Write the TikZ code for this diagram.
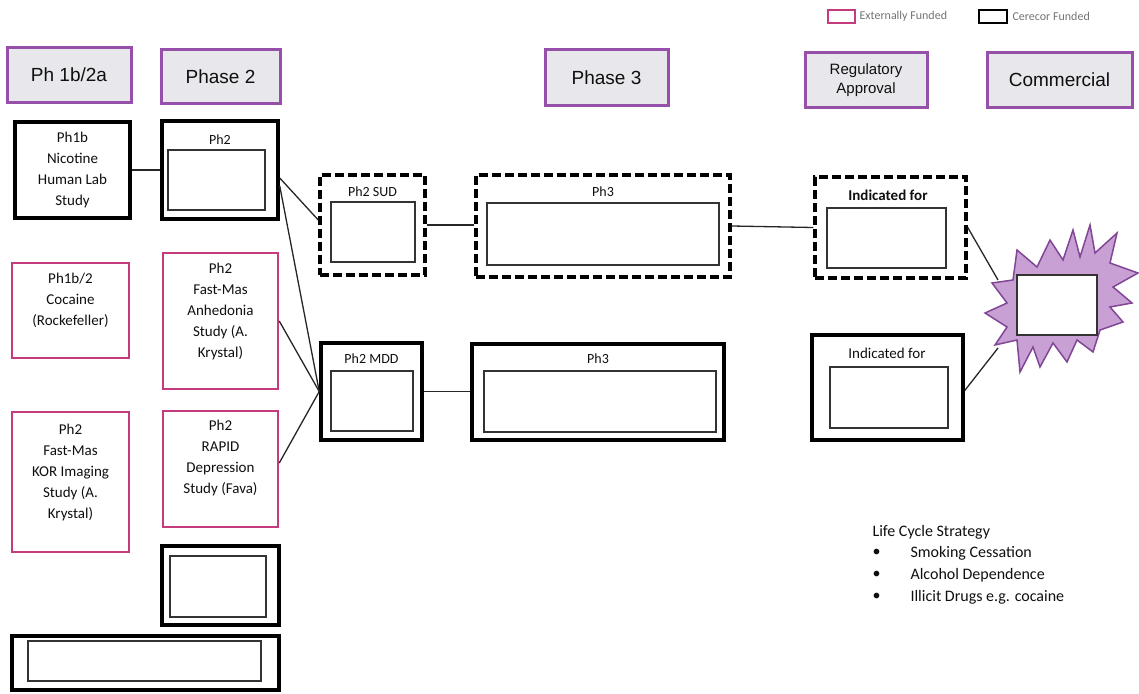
\documentclass[tikz,border=0pt]{standalone}
\usepackage{fontspec}
\setmainfont{Carlito}
\newfontfamily\arialf{Liberation Sans}
\usetikzlibrary{calc}
\definecolor{pinkb}{RGB}{196,60,125}
\definecolor{purpb}{RGB}{150,80,170}
\definecolor{hdrfill}{RGB}{232,232,236}
\definecolor{starfill}{RGB}{200,160,212}
\definecolor{starline}{RGB}{130,70,150}
\definecolor{ink}{RGB}{15,15,15}
\begin{document}
\begin{tikzpicture}[x=1pt,y=-1pt,
 sz/.style 2 args={minimum width=#1pt,minimum height=#2pt},
 hdr/.style={draw=purpb,line width=3pt,fill=hdrfill,inner sep=0pt,align=center,text=ink,font=\arialf\fontsize{19}{22}\selectfont},
 ext/.style={draw=pinkb,line width=2.5pt,inner sep=0pt},
 own/.style={draw=black,line width=3.5pt,inner sep=0pt},
 ownd/.style={draw=black,line width=3.5pt,dash pattern=on 9pt off 4pt,inner sep=0pt},
 inbox/.style={draw=black!80,line width=1.2pt,inner sep=0pt,fill=white},
 txt/.style={font=\fontsize{15}{21}\selectfont,align=center,text=ink},
 lbl/.style={font=\fontsize{14}{16}\selectfont,text=ink},
 link/.style={draw=black!85,line width=1.3pt},
 legtxt/.style={font=\fontsize{12}{14}\selectfont,text=black!55,anchor=west},
 lc/.style={font=\fontsize{16}{18}\selectfont,text=ink,anchor=west},
]
\useasboundingbox (0,0) rectangle (1139,693);

% legend
\node[draw=pinkb,line width=2.5pt,sz={27}{13},inner sep=0pt] (legE) at (841.5,16.5) {};
\node[legtxt] (legEt) at (856,16.5) {Externally Funded};
\node[draw=black,line width=2.5pt,sz={28}{13},inner sep=0pt] (legC) at (993,16.5) {};
\node[legtxt] (legCt) at (1009,16.5) {Cerecor Funded};

% headers
\node[hdr,sz={124}{54}] (h1) at (69,75) {Ph 1b/2a};
\node[hdr,sz={119}{53}] (h2) at (220.5,76.5) {Phase 2};
\node[hdr,sz={123}{56}] (h3) at (606.5,77.5) {Phase 3};
\node[hdr,sz={122}{54},font=\arialf\fontsize{15}{19}\selectfont] (h4) at (866,80) {Regulatory\\Approval};
\node[hdr,sz={145}{54}] (h5) at (1059.5,80) {Commercial};

% left column
\node[own,sz={115}{96}] (n1) at (72.5,170) {};
\node[txt] (n1t) at (72.5,170) {Ph1b\\Nicotine\\Human Lab\\Study};
\node[own,sz={116}{98}] (n2) at (220,170) {};
\node[lbl] (n2t) at (220,140) {Ph2};
\node[inbox,sz={97}{60}] (n2i) at (216.5,180) {};

\node[ext,sz={117}{95}] (n3) at (70.5,310.5) {};
\node[txt] (n3t) at (70.5,300) {Ph1b/2\\Cocaine\\(Rockefeller)};
\node[ext,sz={115}{136}] (n4) at (220.5,321) {};
\node[txt] (n4t) at (220.5,311) {Ph2\\Fast-Mas\\Anhedonia\\Study (A.\\Krystal)};
\node[ext,sz={117}{140}] (n5) at (70.5,482) {};
\node[txt] (n5t) at (70.5,472) {Ph2\\Fast-Mas\\KOR Imaging\\Study (A.\\Krystal)};
\node[ext,sz={115}{116}] (n6) at (220.5,469) {};
\node[txt] (n6t) at (220.5,458) {Ph2\\RAPID\\Depression\\Study (Fava)};

\node[own,sz={117}{79}] (n7) at (220.5,585.5) {};
\node[inbox,sz={96}{61}] (n7i) at (218,586.5) {};
\node[own,sz={267}{54}] (n8) at (145.5,663) {};
\node[inbox,sz={233}{40}] (n8i) at (144.5,661) {};

% middle
\node[ownd,sz={105}{100}] (sud) at (372.5,225) {};
\node[lbl] (sudt) at (372.5,192) {Ph2 SUD};
\node[inbox,sz={84}{60}] (sudi) at (373,232) {};
\node[ownd,sz={254}{102}] (p3d) at (603,226) {};
\node[lbl] (p3dt) at (603,192) {Ph3};
\node[inbox,sz={232}{62}] (p3di) at (603,234) {};

\node[own,sz={101}{97}] (mdd) at (371.5,391.5) {};
\node[lbl] (mddt) at (371.5,359) {Ph2 MDD};
\node[inbox,sz={82}{60}] (mddi) at (372,401) {};
\node[own,sz={252}{96}] (p3s) at (598,392) {};
\node[lbl] (p3st) at (598,359) {Ph3};
\node[inbox,sz={232}{61}] (p3si) at (600,401.5) {};

\node[ownd,sz={151}{101}] (ind) at (890.5,227.5) {};
\node[lbl,font=\bfseries\fontsize{15}{17}\selectfont] (indt) at (888,195) {Indicated for};
\node[inbox,sz={119}{60}] (indi) at (886.5,238) {};
\node[own,sz={151}{105}] (ins) at (887.5,387.5) {};
\node[lbl,font=\fontsize{15}{17}\selectfont] (inst) at (887,353) {Indicated for};
\node[inbox,sz={118}{61}] (insi) at (889,397.5) {};

% connectors
\draw[link] (n1.east) -- (n1.east -| n2.west);
\draw[link] ($(n2.east)+(0,8)$) -- ($(sud.west)+(0,-5)$);
\draw[link] ($(n2.east)+(0,16)$) -- (mdd.west);
\draw[link] (n4.east) -- (mdd.west);
\draw[link] ($(n6.east)+(0,-6)$) -- (mdd.west);
\draw[link] (sud.east) -- (sud.east -| p3d.west);
\draw[link] (p3d.east) -- (ind.west);
\draw[link] (mdd.east) -- (mdd.east -| p3s.west);
\draw[link] ($(p3s.east)+(0,1)$) -- ($(p3s.east)+(0,1)$ -| ins.west);
\coordinate (starA) at (998,280);
\coordinate (starB) at (998,348);
\draw[link] (ind.east) -- (starA);
\draw[link] ($(ins.east)+(0,3)$) -- (starB);

% commercial starburst
\draw[starline,fill=starfill,line width=1.5pt,line join=miter]
 (1090,225) -- (1095,253) -- (1117,233) -- (1110,263) -- (1138,273) -- (1113,287)
 -- (1132,303) -- (1110,307) -- (1123,322) -- (1100,330) -- (1093,352) -- (1077,340)
 -- (1067,362) -- (1053,343) -- (1040,367) -- (1033,347) -- (1020,372) -- (1017,340)
 -- (995,345) -- (1007,327) -- (985,313) -- (1007,303) -- (992,283) -- (1013,280)
 -- (1017,250) -- (1037,267) -- (1050,240) -- (1063,260) -- (1073,230) -- (1080,257) -- cycle;
\node[draw=black!80,line width=1.2pt,fill=white,inner sep=0pt,sz={80}{60}] (comm) at (1057,305) {};

% life cycle strategy
\node[lc] (lct) at (869,532) {Life Cycle Strategy};
\node[lc] (b1) at (869,553) {\textbullet};
\node[lc] (b1t) at (907,553) {Smoking Cessation};
\node[lc] (b2) at (869,575) {\textbullet};
\node[lc] (b2t) at (907,575) {Alcohol Dependence};
\node[lc] (b3) at (869,597) {\textbullet};
\node[lc] (b3t) at (907,597) {Illicit Drugs e.g. cocaine};
\end{tikzpicture}
\end{document}
